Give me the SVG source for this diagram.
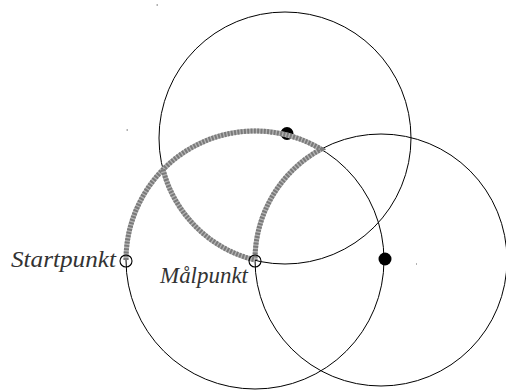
<svg xmlns="http://www.w3.org/2000/svg" width="506" height="390" viewBox="0 0 506 390">
<style>
.circ{fill:none;stroke:#000;stroke-width:1}
.path-base{fill:none;stroke:#b4b4b4;stroke-width:5}
.path-dash{fill:none;stroke:#7a7a7a;stroke-width:5;stroke-dasharray:2 1.3}
.dot{fill:#000}
.pt{fill:none;stroke:#000;stroke-width:1.1}
.lbl{font-family:"Liberation Serif","DejaVu Serif",serif;font-style:italic;font-size:23px;fill:#333}
.speck{fill:#666}
</style>
<rect width="506" height="390" fill="#fff"/>
<g id="circles">
<circle id="circle1" class="circ" cx="285" cy="138" r="126"/>
<circle id="circle2" class="circ" cx="255" cy="260" r="129"/>
<circle id="circle3" class="circ" cx="381" cy="260" r="126"/>
</g>
<g id="dots">
<circle id="dot1" class="dot" cx="287" cy="133.5" r="6.5"/>
<circle id="dot2" class="dot" cx="385" cy="259" r="6.5"/>
</g>
<g id="connectors">
<path class="path-base" d="M126,260 A129,129 0 0 1 321,149.2 A126,126 0 0 0 255,260"/>
<path class="path-dash" d="M126,260 A129,129 0 0 1 321,149.2 A126,126 0 0 0 255,260"/>
<path class="path-base" d="M163,169.5 A126,126 0 0 0 255,260"/>
<path class="path-dash" d="M163,169.5 A126,126 0 0 0 255,260"/>
</g>
<g id="startpunkt">
<circle class="pt" cx="126" cy="261" r="6"/>
<text class="lbl" x="116" y="267" text-anchor="end" textLength="105" lengthAdjust="spacingAndGlyphs">Startpunkt</text>
</g>
<g id="malpunkt">
<circle class="pt" cx="255" cy="261" r="6"/>
<text class="lbl" x="160" y="283" textLength="88" lengthAdjust="spacingAndGlyphs">Målpunkt</text>
</g>
<g id="specks">
<rect class="speck" x="156.5" y="4.5" width="1.5" height="1"/>
<rect class="speck" x="126.5" y="129.5" width="1.5" height="1"/>
<rect class="speck" x="416" y="263.5" width="1" height="1"/>
</g>
</svg>
